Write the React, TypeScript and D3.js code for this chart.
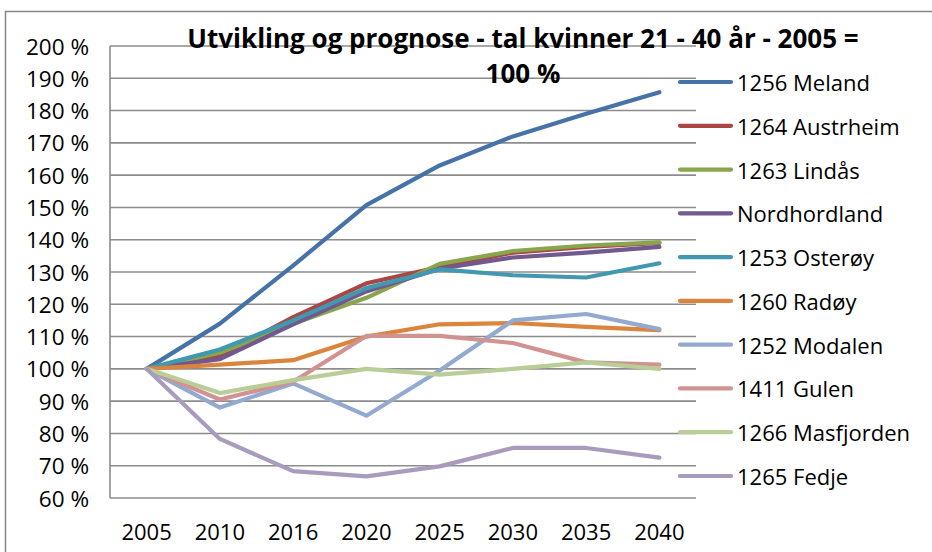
import React from "react";
import * as d3 from "d3";

const years = ["2005", "2010", "2016", "2020", "2025", "2030", "2035", "2040"];
const seriesNames = [
  "1256 Meland",
  "1264 Austrheim",
  "1263 Lindås",
  "Nordhordland",
  "1253 Osterøy",
  "1260 Radøy",
  "1252 Modalen",
  "1411 Gulen",
  "1266 Masfjorden",
  "1265 Fedje",
];
const meland = [100, 114, 132, 150.7, 163, 172, 179, 185.7];
const austrheim = [100, 104, 116, 126.5, 131.5, 136, 137.8, 139];
const lindas = [100, 105, 114, 122, 132.5, 136.5, 138.2, 139.2];
const nordhordland = [100, 103, 113.8, 124, 131, 134.5, 136, 137.8];
const osteroy = [100, 106, 115, 125, 130.8, 129, 128.3, 132.7];
const radoy = [100, 101.3, 102.7, 110, 113.8, 114.2, 113, 112];
const modalen = [100, 88, 95.5, 85.5, 99.5, 115, 117, 112.3];
const gulen = [100, 90.5, 96, 110.2, 110.2, 108, 102, 101.3];
const masfjorden = [100, 92.5, 96.5, 100, 98.2, 100, 102, 100];
const fedje = [100, 78.3, 68.3, 66.7, 69.8, 75.5, 75.5, 72.5];
const allSeries = [meland, austrheim, lindas, nordhordland, osteroy, radoy, modalen, gulen, masfjorden, fedje];
const colors = [
  "#4572A7",
  "#AA4643",
  "#89A54E",
  "#71588F",
  "#4198AF",
  "#DB843D",
  "#93A9CF",
  "#D19392",
  "#B9CD96",
  "#A99BBD",
];
const yTicks = [60, 70, 80, 90, 100, 110, 120, 130, 140, 150, 160, 170, 180, 190, 200];
const titleLines = ["Utvikling og prognose - tal kvinner 21 - 40 år - 2005 =", "100 %"];

const W = 932;
const H = 552;
const FONT = "'Open Sans', 'Liberation Sans', sans-serif";

export default function App() {
  const x = d3.scalePoint<string>().domain(years).range([110, 696]).padding(0.5);
  const y = d3.scaleLinear().domain([60, 200]).range([498, 46]);
  const line = d3
    .line<number>()
    .x((_, i) => x(years[i]) as number)
    .y((d) => y(d));
  const legendY = d3.scalePoint<number>().domain(d3.range(seriesNames.length)).range([82, 476]);

  return (
    <svg width={W} height={H} style={{ position: "absolute", left: 0, top: 0 }} fontFamily={FONT}>
      <rect x={0} y={0} width={W} height={H} fill="#fff" />
      <rect x={5.5} y={11.5} width={W + 20} height={H + 20} fill="none" stroke="#868686" strokeWidth={1.5} />
      {yTicks.map((t) => (
        <line key={t} x1={110} x2={696} y1={y(t)} y2={y(t)} stroke="#8c8c8c" strokeWidth={1.6} />
      ))}
      <line x1={110} x2={110} y1={y(200)} y2={y(60)} stroke="#8c8c8c" strokeWidth={1.6} />
      {yTicks.map((t) => (
        <text key={t} x={89} y={y(t)} textAnchor="end" dominantBaseline="central" fontSize={22.5} fill="#000">
          {t} %
        </text>
      ))}
      {years.map((yr) => (
        <text key={yr} x={x(yr)} y={531} textAnchor="middle" dominantBaseline="central" fontSize={22} fill="#000">
          {yr}
        </text>
      ))}
      {allSeries.map((s, i) => (
        <path
          key={i}
          d={line(s) || ""}
          fill="none"
          stroke={colors[i]}
          strokeWidth={4.2}
          strokeLinejoin="round"
          strokeLinecap="round"
        />
      ))}
      {titleLines.map((t, i) => (
        <text key={i} x={523} y={48 + i * 35} textAnchor="middle" fontSize={26} fontWeight="bold" fill="#000">
          {t}
        </text>
      ))}
      {seriesNames.map((n, i) => (
        <g key={n}>
          <line
            x1={680}
            x2={731}
            y1={legendY(i)}
            y2={legendY(i)}
            stroke={colors[i]}
            strokeWidth={4.2}
            strokeLinecap="round"
          />
          <text x={737} y={legendY(i)} dominantBaseline="central" fontSize={22} fill="#000">
            {n}
          </text>
        </g>
      ))}
    </svg>
  );
}
